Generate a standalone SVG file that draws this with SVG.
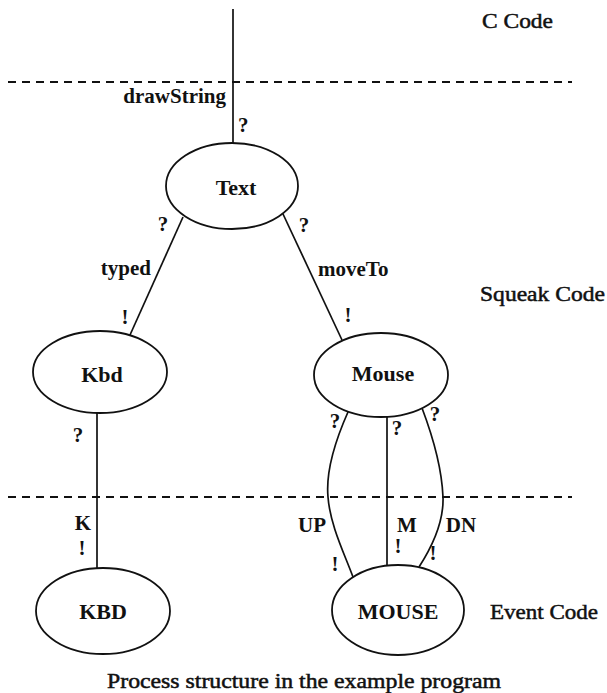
<svg xmlns="http://www.w3.org/2000/svg" width="607" height="693" viewBox="0 0 607 693">
<style>
text{font-family:"Liberation Serif","Times New Roman",serif;fill:#111}
.n{font-size:22px;font-weight:bold;text-anchor:middle}
.l{font-size:21px;font-weight:bold}
.m{font-size:21px;font-weight:bold;text-anchor:middle}
.r{font-size:21px;stroke:#111;stroke-width:0.5}
.node ellipse{fill:#fff;stroke:#111;stroke-width:1.8}
.edge{fill:none;stroke:#111;stroke-width:1.7}
.dash{fill:none;stroke:#111;stroke-width:1.8;stroke-dasharray:8 6}
</style>
<rect width="607" height="693" fill="#fff"/>
<g id="separators">
<line class="dash" x1="8" y1="82" x2="572" y2="82"/>
<line class="dash" x1="8" y1="497" x2="572" y2="497"/>
</g>
<g id="connectors">
<line class="edge" x1="233" y1="9" x2="233" y2="143" stroke-width="2.2"/>
<line class="edge" x1="183" y1="217" x2="130" y2="335"/>
<line class="edge" x1="283" y1="214" x2="342" y2="340"/>
<line class="edge" x1="97" y1="413" x2="97" y2="568"/>
<line class="edge" x1="387" y1="417" x2="387" y2="566"/>
<path class="edge" d="M348,412 C332,448 326,475 328,497 C330,525 345,555 353,577"/>
<path class="edge" d="M422,408 C436,445 442,472 443,497 C444,525 430,550 419,567"/>
</g>
<g id="node-text" class="node"><ellipse cx="232" cy="186" rx="66" ry="43"/><text class="n" x="236" y="195">Text</text></g>
<g id="node-kbd" class="node"><ellipse cx="100" cy="372" rx="67" ry="41"/><text class="n" x="102" y="382">Kbd</text></g>
<g id="node-mouse" class="node"><ellipse cx="381" cy="375" rx="67" ry="42"/><text class="n" x="383" y="381">Mouse</text></g>
<g id="node-KBD" class="node"><ellipse cx="103" cy="611" rx="67" ry="43"/><text class="n" x="103" y="619">KBD</text></g>
<g id="node-MOUSE" class="node"><ellipse cx="398" cy="610" rx="66" ry="45"/><text class="n" x="398" y="619">MOUSE</text></g>
<g id="labels">
<text class="l" x="226" y="103" text-anchor="end">drawString</text>
<text class="l" x="238" y="132">?</text>
<text class="m" x="163" y="231">?</text>
<text class="m" x="304" y="232">?</text>
<text class="l" x="151" y="275" text-anchor="end">typed</text>
<text class="l" x="318" y="276">moveTo</text>
<text class="m" x="125" y="324">!</text>
<text class="m" x="348" y="322">!</text>
<text class="m" x="78" y="442">?</text>
<text class="m" x="335" y="428">?</text>
<text class="m" x="397" y="435">?</text>
<text class="m" x="435" y="421">?</text>
<text class="m" x="83" y="530">K</text>
<text class="m" x="82" y="555">!</text>
<text class="m" x="312" y="532">UP</text>
<text class="m" x="407" y="532">M</text>
<text class="m" x="461" y="532">DN</text>
<text class="m" x="335" y="571">!</text>
<text class="m" x="398" y="553">!</text>
<text class="m" x="433" y="560">!</text>
</g>
<g id="regions">
<text class="r" x="482" y="28" textLength="71" lengthAdjust="spacingAndGlyphs">C Code</text>
<text class="r" x="480" y="301" textLength="125" lengthAdjust="spacingAndGlyphs">Squeak Code</text>
<text class="r" x="490" y="619" textLength="108" lengthAdjust="spacingAndGlyphs">Event Code</text>
<text class="r" x="107" y="688" textLength="394" lengthAdjust="spacingAndGlyphs">Process structure in the example program</text>
</g>
</svg>
